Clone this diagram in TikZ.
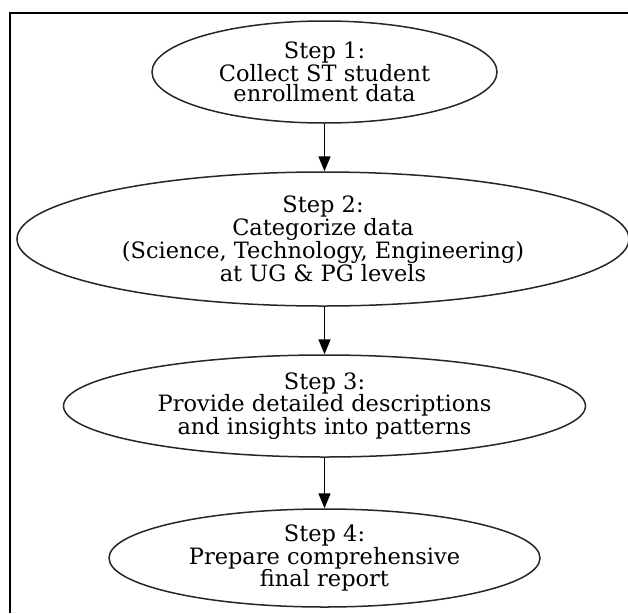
\documentclass[tikz,border=0pt]{standalone}
\usepackage{fontspec}
\setmainfont{DejaVu Serif}
\usetikzlibrary{shapes.geometric,arrows.meta}
\begin{document}
\begin{tikzpicture}[x=1pt,y=-1pt,
  stepnode/.style={ellipse, draw=black!85, line width=1.5pt, inner sep=0pt,
    align=center, font=\fontsize{22.5}{20.8}\selectfont},
  flow/.style={line width=1.6pt, -{Triangle[length=15pt,width=12pt]}},
  frame/.style={line width=2pt}]
\useasboundingbox (0,0) rectangle (628,613);
\draw[frame] (10,613) -- (10,13) -- (628,13);
\node[stepnode, minimum width=345pt, minimum height=102pt] (s1) at (324.5,72)
  {Step 1:\\Collect ST student\\enrollment data};
\node[stepnode, minimum width=612pt, minimum height=134pt] (s2) at (323,239)
  {Step 2:\\Categorize data\\(Science, Technology, Engineering)\\at UG \& PG levels};
\node[stepnode, minimum width=522pt, minimum height=102pt] (s3) at (324.5,406)
  {Step 3:\\Provide detailed descriptions\\and insights into patterns};
\node[stepnode, minimum width=431pt, minimum height=98pt] (s4) at (324.5,558)
  {Step 4:\\Prepare comprehensive\\final report};
\draw[flow] (s1.south) -- (s1.south |- s2.north);
\draw[flow] (s1.south |- s2.south) -- (s3.north);
\draw[flow] (s3.south) -- (s4.north);
\end{tikzpicture}
\end{document}
